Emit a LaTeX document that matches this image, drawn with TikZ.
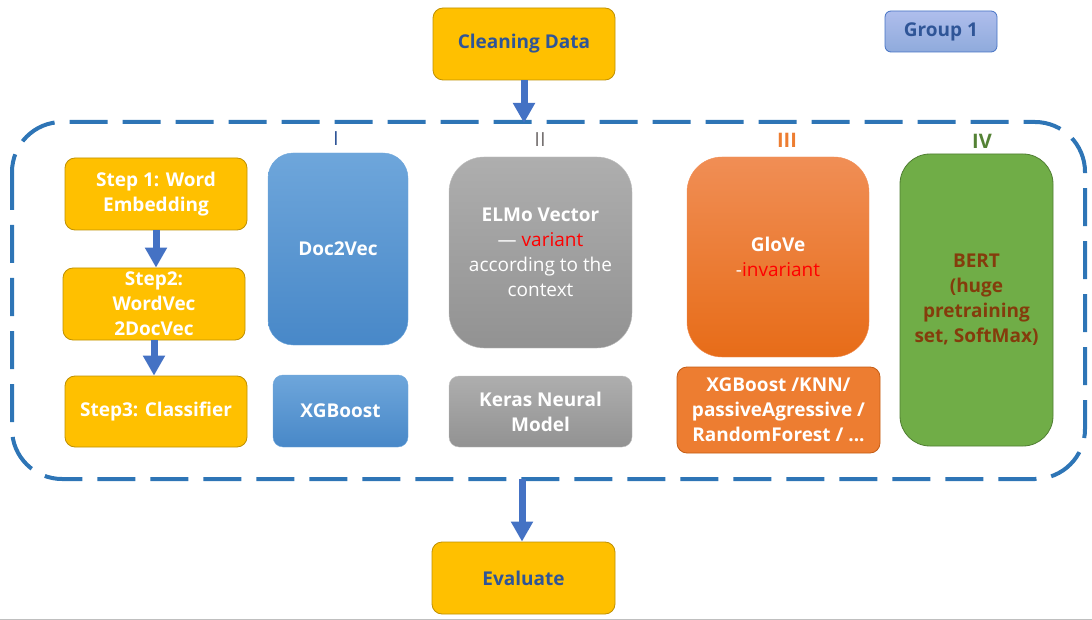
\documentclass[tikz,border=0pt]{standalone}
\usepackage{fontspec}
\setmainfont{Open Sans}
\usetikzlibrary{arrows.meta}
\definecolor{stepfill}{HTML}{FFC000}
\definecolor{stepline}{HTML}{BF9000}
\definecolor{textblue}{HTML}{2F5597}
\definecolor{arrowblue}{HTML}{4472C4}
\definecolor{dashblue}{HTML}{2E75B6}
\definecolor{bluetop}{HTML}{6EA6DB}
\definecolor{bluebot}{HTML}{4888C8}
\definecolor{graytop}{HTML}{AEAEAE}
\definecolor{graybot}{HTML}{929292}
\definecolor{orangetop}{HTML}{F08E55}
\definecolor{orangebot}{HTML}{E76C18}
\definecolor{orangefill}{HTML}{ED7D31}
\definecolor{greenfill}{HTML}{70AD47}
\definecolor{greenline}{HTML}{507E32}
\definecolor{berttext}{HTML}{843C0C}
\definecolor{numgray}{HTML}{767171}
\definecolor{numgreen}{HTML}{548235}
\tikzset{
  basebox/.style={rounded corners=10pt, inner sep=0pt, align=center,
    font=\fontsize{19}{25}\selectfont\bfseries},
  stepbox/.style={basebox, draw=stepline, fill=stepfill, line width=0.8pt, text=white},
  endbox/.style={stepbox, text=textblue},
  bluebox/.style={basebox, draw=bluetop, top color=bluetop, bottom color=bluebot, text=white},
  graybox/.style={basebox, draw=graytop!80, top color=graytop, bottom color=graybot, text=white},
  numeral/.style={font=\fontsize{20}{24}\selectfont\sffamily, inner sep=0pt},
  blockarrow/.style={draw=arrowblue, line width=7pt, -{Triangle[width=21pt,length=20pt]}},
  framedash/.style={draw=dashblue, line width=4pt, dash pattern=on 38pt off 15pt, rounded corners=50pt}
}
\begin{document}
\begin{tikzpicture}[x=1pt,y=-1pt]
\useasboundingbox (0,0) rectangle (1092,620);
\draw[black!25, line width=1pt] (0,619.5)--(1092,619.5);
% top and bottom
\node[endbox, minimum width=182pt, minimum height=72pt] (clean) at (524,44) {Cleaning Data};
\node[basebox, draw=arrowblue, line width=0.8pt, top color=blue!20!arrowblue!40, bottom color=arrowblue!60, text=textblue,
  rounded corners=6pt, minimum width=112pt, minimum height=41pt] (group) at (941,31.5) {Group 1};
\draw[framedash] (12,122) rectangle (1085,479);
\coordinate (frametop) at (524,123);
\coordinate (framebot) at (522,479);
\node[endbox, minimum width=183pt, minimum height=72pt] (eval) at (523.5,578) {Evaluate};
\draw[blockarrow] (clean.south) -- (frametop);
\draw[blockarrow] (framebot) -- (framebot |- eval.north);
% steps
\node[stepbox, minimum width=182pt, minimum height=72pt] (step1) at (156,194) {Step 1: Word\\Embedding};
\node[stepbox, minimum width=182pt, minimum height=72pt] (step2) at (154,304) {Step2:\\WordVec\\2DocVec};
\node[stepbox, minimum width=182pt, minimum height=71pt] (step3) at (156,411.5) {Step3: Classifier};
\draw[blockarrow] (step1.south) -- (step1.south |- step2.north);
\draw[blockarrow] (step2.south) -- (step2.south |- step3.north);
% I
\node[numeral, text=textblue] (num1) at (336,139) {I};
\node[bluebox, rounded corners=25pt, minimum width=140pt, minimum height=192pt] (docvec) at (338,249) {Doc2Vec};
\node[bluebox, minimum width=135pt, minimum height=72pt] (xgb) at (340.5,411) {XGBoost};
% II
\node[numeral, text=numgray] (num2) at (540,140) {II};
\node[graybox, rounded corners=35pt, minimum width=183pt, minimum height=191pt, font=\fontsize{19}{25}\selectfont] (elmo) at (540.5,252.5)
  {\textbf{ELMo Vector}\\— {\color{red}variant}\\according to the\\context};
\node[graybox, minimum width=183pt, minimum height=71pt] (keras) at (540.5,411.5) {Keras Neural\\Model};
% III
\node[numeral, text=orangefill, font=\fontsize{20}{24}\selectfont\bfseries] (num3) at (787,140) {III};
\node[basebox, rounded corners=35pt, draw=orangetop, top color=orangetop, bottom color=orangebot, text=white,
  minimum width=182pt, minimum height=200pt] (glove) at (778,257) {GloVe\\\mdseries-{\color{red}invariant}};
\node[basebox, draw=orangebot!85!black, fill=orangefill, text=white, line width=0.8pt,
  minimum width=203pt, minimum height=86pt] (clf) at (778.5,410) {XGBoost /KNN/\\passiveAgressive /\\RandomForest / ...};
% IV
\node[numeral, text=numgreen, font=\fontsize{20}{24}\selectfont\bfseries] (num4) at (982,141) {IV};
\node[basebox, rounded corners=30pt, draw=greenline, fill=greenfill, text=berttext, line width=0.8pt,
  minimum width=153pt, minimum height=292pt] (bert) at (976.5,300) {BERT\\(huge\\pretraining\\set, SoftMax)};
\end{tikzpicture}
\end{document}
